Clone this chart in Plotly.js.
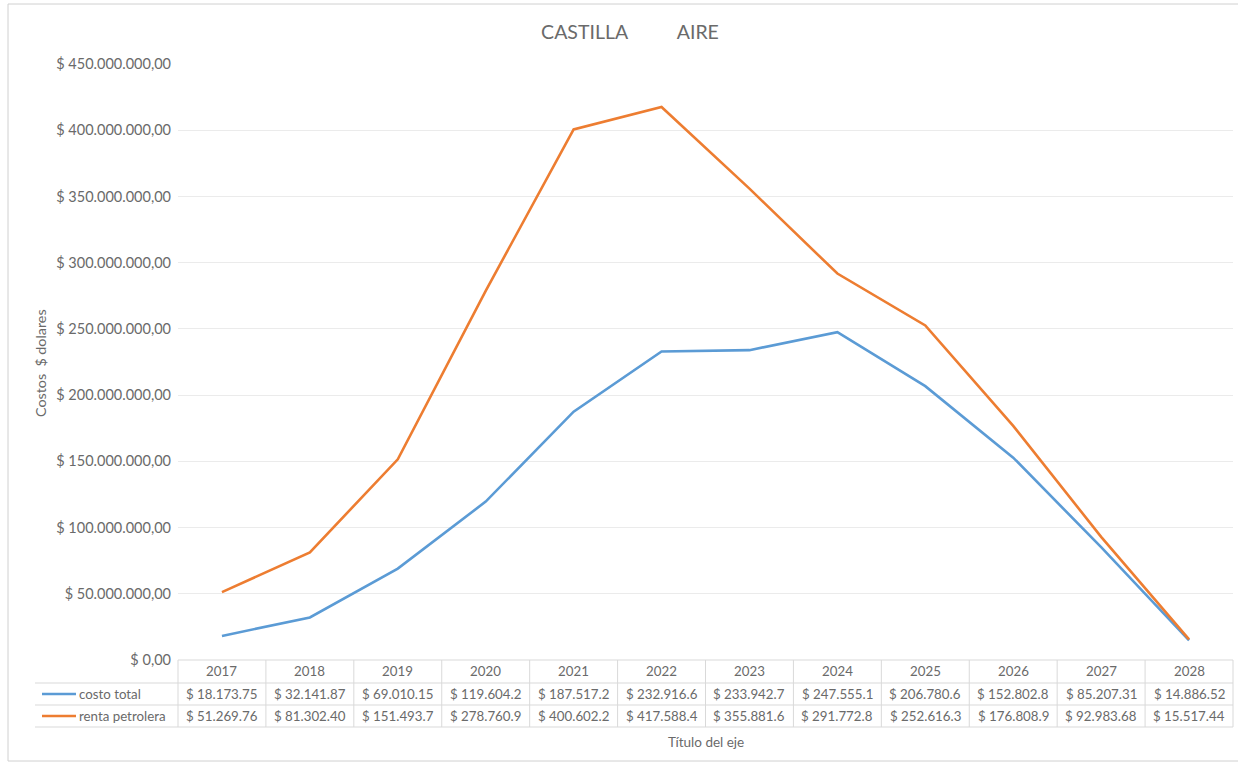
<!DOCTYPE html>
<html>
<head>
<meta charset="utf-8">
<script src="https://cdn.plot.ly/plotly-3.0.1.min.js"></script>
<style>
  html, body { margin: 0; padding: 0; background: #ffffff; }
  #chart { width: 1238px; height: 768px; }
</style>
</head>
<body>
<div id="chart"></div>
<script>
// Years shown along the bottom of the chart and in the data table header
const years = ['2017', '2018', '2019', '2020', '2021', '2022', '2023', '2024', '2025', '2026', '2027', '2028'];

// Series values (US dollars)
const costoTotal = [18173750, 32141870, 69010150, 119604200, 187517200, 232916600,
                    233942700, 247555100, 206780600, 152802800, 85207310, 14886520];
const rentaPetrolera = [51269760, 81302400, 151493700, 278760900, 400602200, 417588400,
                        355881600, 291772800, 252616300, 176808900, 92983680, 15517440];

const seriesNames = ['costo total', 'renta petrolera'];
const seriesColors = ['#5B9BD5', '#ED7D31'];

const FONT = 'Lato, "Open Sans", sans-serif';
const GREY = '#6A6A6A';
const LINE = '#D9D9D9';

// Plot area in pixels: left 178, right 1233, top 64, zero line at 660
const L = 178, R = 1233, T = 64, B = 660, W = 1238, H = 768;
const px = x => (x - L) / (R - L);   // pixel x -> paper x
const py = y => (B - y) / (B - T);   // pixel y -> paper y
const colCenter = i => (i + 0.5) / years.length;   // table column centre, paper x

// Currency formatting as in the data table: $ 18.173.750,00, clipped to the cell width
function money(v) {
  const parts = v.toFixed(2).split('.');
  const intPart = parts[0].replace(/\B(?=(\d{3})+(?!\d))/g, '.');
  return '$ ' + intPart + ',' + parts[1];
}
const cellText = v => money(v).slice(0, 11);

const traces = [costoTotal, rentaPetrolera].map((vals, i) => ({
  type: 'scatter',
  mode: 'lines',
  x: years,
  y: vals,
  name: seriesNames[i],
  line: { color: seriesColors[i], width: 2.6 },
  hoverinfo: 'skip',
  cliponaxis: false
}));

const shapes = [];
const annotations = [];
const TABLE_FONT = { family: FONT, size: 13.3, color: GREY };

// Outer chart frame
shapes.push({
  type: 'rect', xref: 'paper', yref: 'paper',
  x0: px(8), x1: px(1246), y0: py(761), y1: py(4),
  line: { color: '#D0D0D0', width: 1 }, fillcolor: 'rgba(0,0,0,0)', layer: 'below'
});

// Data table: horizontal rules
const rowY = [660, 683, 705, 727];
rowY.forEach((y, k) => {
  shapes.push({
    type: 'line', xref: 'paper', yref: 'paper',
    x0: k === 0 ? px(L) : px(35), x1: px(R), y0: py(y), y1: py(y),
    line: { color: LINE, width: 1 }
  });
});
// Data table: vertical rules between the years
for (let i = 0; i <= years.length; i++) {
  shapes.push({
    type: 'line', xref: 'paper', yref: 'paper',
    x0: i / years.length, x1: i / years.length, y0: py(660), y1: py(727),
    line: { color: LINE, width: 1 }
  });
}

// Year header cells
years.forEach((yr, i) => {
  annotations.push({
    xref: 'paper', yref: 'paper', x: colCenter(i), y: py(671),
    text: yr, showarrow: false, xanchor: 'center', yanchor: 'middle',
    font: TABLE_FONT
  });
});

// Series rows: legend key, name and one cell per year
[costoTotal, rentaPetrolera].forEach((vals, s) => {
  const yc = [694, 716][s];
  shapes.push({
    type: 'line', xref: 'paper', yref: 'paper',
    x0: px(42), x1: px(76), y0: py(yc), y1: py(yc),
    line: { color: seriesColors[s], width: 2.6 }
  });
  annotations.push({
    xref: 'paper', yref: 'paper', x: px(77), y: py(yc),
    text: seriesNames[s], showarrow: false, xanchor: 'left', yanchor: 'middle',
    font: TABLE_FONT
  });
  vals.forEach((v, i) => {
    annotations.push({
      xref: 'paper', yref: 'paper', x: colCenter(i), y: py(yc),
      text: cellText(v), showarrow: false, xanchor: 'center', yanchor: 'middle',
      font: TABLE_FONT
    });
  });
});

// Axis titles
annotations.push({
  xref: 'paper', yref: 'paper', x: 0.5, y: py(742),
  text: 'Título del eje', showarrow: false, xanchor: 'center', yanchor: 'middle',
  font: { family: FONT, size: 13.5, color: GREY }
});
annotations.push({
  xref: 'paper', yref: 'paper', x: px(40), y: py(363),
  text: 'Costos\u00a0 $ dolares', textangle: -90, showarrow: false,
  xanchor: 'center', yanchor: 'middle',
  font: { family: FONT, size: 14.3, color: GREY }
});

const layout = {
  width: W, height: H,
  margin: { l: L, r: W - R, t: T, b: H - B, pad: 0 },
  paper_bgcolor: '#ffffff',
  plot_bgcolor: '#ffffff',
  showlegend: false,
  separators: ',.',
  title: {
    text: 'CASTILLA' + '\u00a0'.repeat(10) + 'AIRE',
    x: 630 / W, xref: 'container', xanchor: 'center',
    y: 1 - 32 / H, yref: 'container', yanchor: 'middle',
    font: { family: FONT, size: 19.5, color: GREY }
  },
  xaxis: {
    type: 'category',
    range: [-0.5, years.length - 0.5],
    showticklabels: false,
    showgrid: false,
    zeroline: false,
    showline: false,
    ticks: ''
  },
  yaxis: {
    range: [0, 450000000],
    dtick: 50000000,
    tickformat: ',.2f',
    tickprefix: '$ ',
    showgrid: true,
    gridcolor: '#EBEBEB',
    gridwidth: 1,
    zeroline: false,
    showline: false,
    ticks: '',
    ticklabelstandoff: 6,
    tickfont: { family: FONT, size: 14.5, color: GREY }
  },
  shapes: shapes,
  annotations: annotations
};

Plotly.newPlot('chart', traces, layout, { displayModeBar: false, staticPlot: true });
</script>
</body>
</html>
